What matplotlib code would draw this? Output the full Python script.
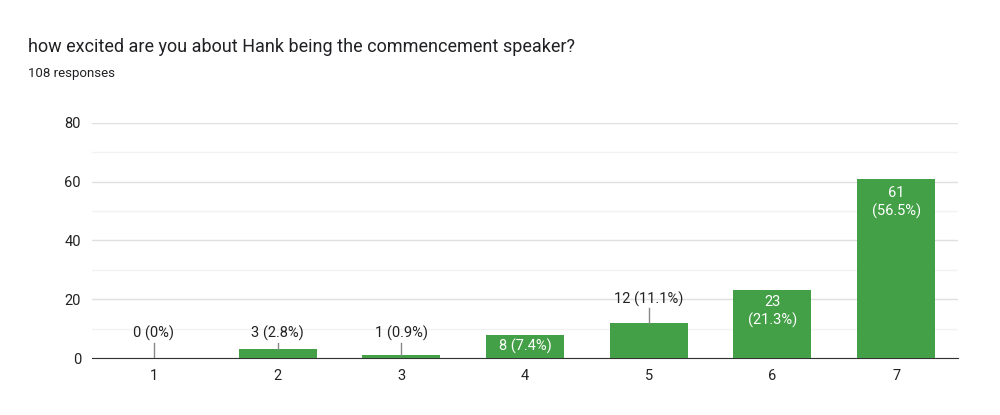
import matplotlib
matplotlib.use("Agg")
import matplotlib.pyplot as plt

categories = ["1", "2", "3", "4", "5", "6", "7"]
counts = [0, 3, 1, 8, 12, 23, 61]
labels = ["0 (0%)", "3 (2.8%)", "1 (0.9%)", "8 (7.4%)", "12 (11.1%)", "23\n(21.3%)", "61\n(56.5%)"]
inside = [False, False, False, True, False, True, True]

plt.rcParams['font.family'] = ['Roboto', 'DejaVu Sans']
fig = plt.figure(figsize=(10, 4.15), dpi=100)
ax = fig.add_axes([0.092, 0.137, 0.866, 0.567])
green = "#43a047"
x = list(range(len(categories)))
ax.bar(x, counts, width=0.63, color=green, zorder=3)
ax.set_xlim(-0.5, 6.5)
ax.set_ylim(0, 80)
ax.set_yticks([0, 20, 40, 60, 80])
ax.set_yticks(range(10, 80, 20), minor=True)
ax.grid(axis='y', which='major', color='#e0e0e0', lw=1, zorder=0)
ax.grid(axis='y', which='minor', color='#f2f2f2', lw=1, zorder=0)
ax.set_xticks(x)
ax.set_xticklabels(categories)
ax.tick_params(axis='both', which='both', length=0, labelsize=10.5, colors='#222222', pad=8)
for s in ['top', 'right', 'left']:
    ax.spines[s].set_visible(False)
ax.spines['bottom'].set_color('#333333')

for i, (c, lab, ins) in enumerate(zip(counts, labels, inside)):
    if ins:
        yc = c / 2 if c < 20 else c - (8 if c > 30 else 7)
        ax.text(i, yc, lab, ha='center', va='center', color='white', fontsize=10.5, zorder=4, linespacing=1.3)
    else:
        ytop = 17.5 if c >= 10 else 5.8
        ax.plot([i, i], [c, ytop - 0.5], color='#888888', lw=1, zorder=4)
        ax.text(i, ytop, lab, ha='center', va='bottom', color='#222222', fontsize=10.5, zorder=4)

fig.text(0.028, 0.875, "how excited are you about Hank being the commencement speaker?",
         fontsize=13, color='#202124')
fig.text(0.028, 0.815, "108 responses", fontsize=9.5, color='#202124')
fig.savefig("out.png", dpi=100, facecolor='white')
